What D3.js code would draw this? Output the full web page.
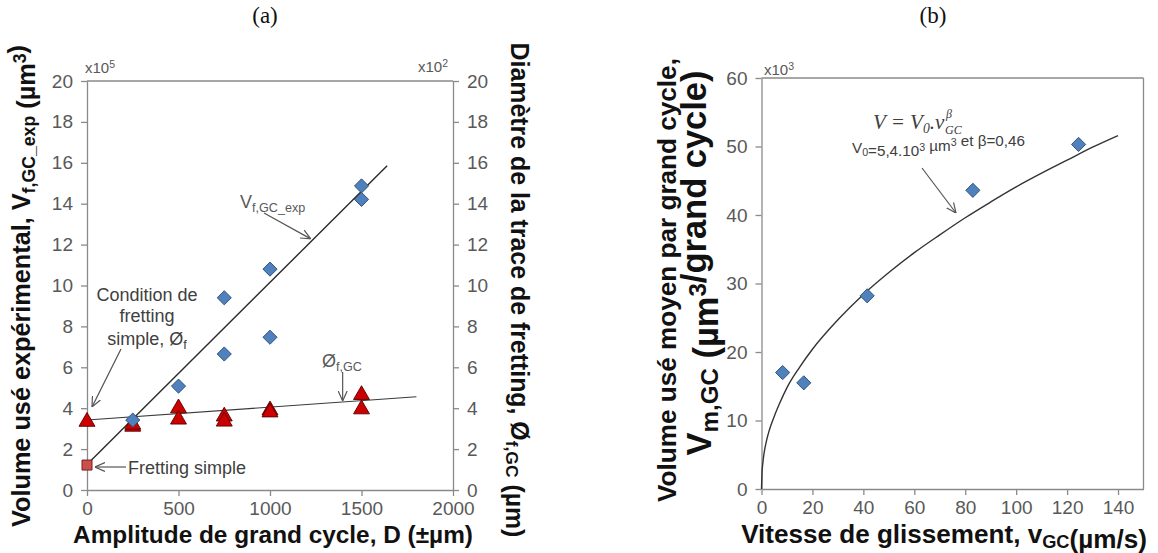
<!DOCTYPE html>
<html><head><meta charset="utf-8">
<script src="https://cdn.jsdelivr.net/npm/d3@7"></script>
<style>body{margin:0;background:#fff;} svg{display:block;}</style>
</head><body><svg id="c" width="1158" height="553"></svg>
<script>
// ---------- DATA (panel a) ----------
const ampD_V = [250, 500, 750, 750, 1000, 1000, 1500, 1500];
const volV = [3.42, 5.08, 9.4, 6.65, 10.8, 7.47, 14.87, 14.21];          // x10^5 µm³
const ampD_phi = [0, 250, 250, 500, 500, 750, 750, 1000, 1000, 1500, 1500];
const diamPhi = [3.34, 3.1, 3.2, 4.0, 3.45, 3.6, 3.35, 3.9, 3.8, 4.65, 3.95]; // x10^2 µm
const simpleD = [0];
const simpleVol = [1.22];
const fitV_D = [0, 1640];
const fitV_val = [1.25, 15.85];
const fitPhi_D = [0, 1800];
const fitPhi_val = [3.42, 4.56];
const xTicksA = [0, 500, 1000, 1500, 2000];
const yTicksA = [0, 2, 4, 6, 8, 10, 12, 14, 16, 18, 20];

// ---------- DATA (panel b) ----------
const speed = [8.3, 16.6, 41.5, 83, 124.5];
const volMean = [17.0, 15.5, 28.2, 43.6, 50.3];                           // x10^3 µm³
const fitSpeed = [0, 0.2, 0.5, 1, 2, 3, 5, 7, 10, 15, 20, 30, 40, 50, 60, 70, 80, 90, 100, 110, 120, 130, 140];
const fitVol = [0, 2.4, 3.7, 5.2, 7.1, 8.5, 10.6, 12.4, 14.8, 17.8, 20.4, 24.7, 28.4, 31.6, 34.5, 37.1, 39.6, 41.9, 44.1, 46.1, 48.0, 49.9, 51.6];
const xTicksB = [0, 20, 40, 60, 80, 100, 120, 140];
const yTicksB = [0, 10, 20, 30, 40, 50, 60];

// ---------- STYLE ----------
const AX = "#8a8a8a", TXT = "#595959", DARK = "#404040";
const SANS = "'Liberation Sans', Arial, sans-serif";
const SERIF = "'Liberation Serif', 'Times New Roman', serif";

const svg = d3.select("#c");
const defs = svg.append("defs");
defs.append("marker").attr("id", "arr").attr("viewBox", "0 0 10 10")
  .attr("refX", 10).attr("refY", 5).attr("markerWidth", 10).attr("markerHeight", 10)
  .attr("markerUnits", "userSpaceOnUse").attr("orient", "auto")
  .append("path").attr("d", "M0,0.5 L10,5 L0,9.5").attr("fill", "none")
  .attr("stroke", "#555").attr("stroke-width", 1.2);

function styleAxis(g) {
  g.select(".domain").attr("stroke", AX).attr("stroke-width", 1.3);
  g.selectAll(".tick line").attr("stroke", AX).attr("stroke-width", 1.3);
  g.selectAll(".tick text").attr("fill", TXT).attr("font-size", 19).attr("font-family", SANS);
}
function fit(sel, target) {
  const len = sel.node().getBBox().width;
  const fs = parseFloat(sel.attr("font-size"));
  sel.attr("font-size", fs * target / len);
}
function sub(t, s) { t.append("tspan").attr("font-size", "0.7em").attr("dy", "0.3em").text(s); t.append("tspan").attr("dy", "-0.21em").text(""); }
function sup(t, s) { t.append("tspan").attr("font-size", "0.7em").attr("dy", "-0.5em").text(s); t.append("tspan").attr("dy", "0.35em").text(""); }
const fmt = d3.format("d");

// panel labels
svg.append("text").attr("x", 265).attr("y", 23).attr("text-anchor", "middle")
  .attr("font-family", SERIF).attr("font-size", 23).attr("fill", "#111").text("(a)");
svg.append("text").attr("x", 933).attr("y", 23).attr("text-anchor", "middle")
  .attr("font-family", SERIF).attr("font-size", 23).attr("fill", "#111").text("(b)");

// ================= PANEL A =================
const xA = d3.scaleLinear().domain([0, 2000]).range([87, 453]);
const yA = d3.scaleLinear().domain([0, 20]).range([490, 81]);
const yA2 = d3.scaleLinear().domain([0, 20]).range([490, 81]);

const gA = svg.append("g");
gA.append("line").attr("x1", xA(0)).attr("x2", xA(2000)).attr("y1", yA(20)).attr("y2", yA(20))
  .attr("stroke", AX).attr("stroke-width", 1.3);
gA.append("g").attr("transform", `translate(0,${yA(0)})`)
  .call(d3.axisBottom(xA).tickValues(xTicksA).tickFormat(fmt).tickSize(6).tickSizeOuter(0).tickPadding(6)).call(styleAxis);
gA.append("g").attr("transform", `translate(${xA(0)},0)`)
  .call(d3.axisLeft(yA).tickValues(yTicksA).tickFormat(fmt).tickSize(6).tickSizeOuter(0).tickPadding(8)).call(styleAxis);
gA.append("g").attr("transform", `translate(${xA(2000)},0)`)
  .call(d3.axisRight(yA2).tickValues(yTicksA).tickFormat(fmt).tickSize(6).tickSizeOuter(0).tickPadding(8)).call(styleAxis);

// fit lines
const lineA = d3.line().x(d => xA(d[0])).y(d => yA(d[1]));
gA.append("path").datum(d3.zip(fitPhi_D, fitPhi_val)).attr("d", lineA)
  .attr("fill", "none").attr("stroke", "#3a3a3a").attr("stroke-width", 1.1);
gA.append("path").datum(d3.zip(fitV_D, fitV_val)).attr("d", lineA)
  .attr("fill", "none").attr("stroke", "#2a2a2a").attr("stroke-width", 1.4);

// triangles
const tri = d3.symbol().type(d3.symbolTriangle).size(110);
gA.selectAll(".tri").data(d3.zip(ampD_phi, diamPhi)).join("path")
  .attr("transform", d => `translate(${xA(d[0])},${yA2(d[1])})`).attr("d", tri)
  .attr("fill", "#cc0000").attr("stroke", "#5a0000").attr("stroke-width", 0.9);
// diamonds
const dia = d3.symbol().type(d3.symbolSquare).size(100);
gA.selectAll(".dia").data(d3.zip(ampD_V, volV)).join("path")
  .attr("transform", d => `translate(${xA(d[0])},${yA(d[1])}) rotate(45)`).attr("d", dia)
  .attr("fill", "#4f81bd").attr("stroke", "#2f4f77").attr("stroke-width", 0.9);
// fretting simple square
gA.selectAll(".sq").data(d3.zip(simpleD, simpleVol)).join("path")
  .attr("transform", d => `translate(${xA(d[0])},${yA(d[1])})`).attr("d", d3.symbol().type(d3.symbolSquare).size(100))
  .attr("fill", "#c9504f").attr("stroke", "#7a1f1f").attr("stroke-width", 1);

// multipliers
let t = gA.append("text").attr("x", 85).attr("y", 73).attr("font-family", SANS).attr("font-size", 15).attr("fill", TXT).text("x10");
sup(t, "5");
t = gA.append("text").attr("x", 418).attr("y", 72).attr("font-family", SANS).attr("font-size", 15).attr("fill", TXT).text("x10");
sup(t, "2");

// annotations
const cond = ["Condition de", "fretting", "simple, Ø"];
const condY = [301, 322, 345];
cond.forEach((s, i) => {
  const tt = gA.append("text").attr("x", 147).attr("y", condY[i]).attr("text-anchor", "middle")
    .attr("font-family", SANS).attr("font-size", 18).attr("fill", DARK).text(s);
  if (i === 2) sub(tt, "f");
});
gA.append("line").attr("x1", 121).attr("y1", 349).attr("x2", 92).attr("y2", 407)
  .attr("stroke", "#555").attr("stroke-width", 1.2).attr("marker-end", "url(#arr)");

gA.append("text").attr("x", 128).attr("y", 474).attr("font-family", SANS).attr("font-size", 18)
  .attr("fill", DARK).text("Fretting simple");
gA.append("line").attr("x1", 126).attr("y1", 467).attr("x2", 95).attr("y2", 467)
  .attr("stroke", "#555").attr("stroke-width", 1.2).attr("marker-end", "url(#arr)");

t = gA.append("text").attr("x", 240).attr("y", 208).attr("font-family", SANS).attr("font-size", 18).attr("fill", TXT).text("V");
sub(t, "f,GC_exp");
const dArrow = 1228;
const vAt = fitV_val[0] + (fitV_val[1] - fitV_val[0]) * (dArrow - fitV_D[0]) / (fitV_D[1] - fitV_D[0]);
gA.append("line").attr("x1", 264).attr("y1", 213).attr("x2", xA(dArrow) - 1).attr("y2", yA(vAt) - 2)
  .attr("stroke", "#555").attr("stroke-width", 1.2).attr("marker-end", "url(#arr)");

t = gA.append("text").attr("x", 322).attr("y", 367).attr("font-family", SANS).attr("font-size", 18).attr("fill", TXT).text("Ø");
sub(t, "f,GC");
const dPhi = 1397;
const pAt = fitPhi_val[0] + (fitPhi_val[1] - fitPhi_val[0]) * dPhi / fitPhi_D[1];
gA.append("line").attr("x1", xA(dPhi)).attr("y1", 372).attr("x2", xA(dPhi)).attr("y2", yA2(pAt) - 1)
  .attr("stroke", "#555").attr("stroke-width", 1.2).attr("marker-end", "url(#arr)");

// axis titles A
t = svg.append("text").attr("transform", "translate(30,286) rotate(-90)").attr("text-anchor", "middle")
  .attr("font-family", SANS).attr("font-weight", "bold").attr("font-size", 22).attr("fill", "#111")
  .text("Volume usé expérimental, V");
sub(t, "f,GC_exp"); t.append("tspan").text(" (µm"); sup(t, "3"); t.append("tspan").text(")");
fit(t, 482);

t = svg.append("text").attr("transform", "translate(511,290) rotate(90)").attr("text-anchor", "middle")
  .attr("font-family", SANS).attr("font-weight", "bold").attr("font-size", 22).attr("fill", "#111")
  .text("Diamètre de la trace de fretting, Ø");
sub(t, "f,GC"); t.append("tspan").text(" (µm)");
fit(t, 495);

t = svg.append("text").attr("x", 273).attr("y", 543).attr("text-anchor", "middle")
  .attr("font-family", SANS).attr("font-weight", "bold").attr("font-size", 22).attr("fill", "#111")
  .text("Amplitude de grand cycle, D (±µm)");
fit(t, 400);

// ================= PANEL B =================
const xB = d3.scaleLinear().domain([0, 150]).range([761.5, 1143.5]);
const yB = d3.scaleLinear().domain([0, 60]).range([489, 78]);
const gB = svg.append("g");
gB.append("line").attr("x1", xB(0)).attr("x2", xB(150)).attr("y1", yB(60)).attr("y2", yB(60)).attr("stroke", AX).attr("stroke-width", 1.3);
gB.append("line").attr("x1", xB(150)).attr("x2", xB(150)).attr("y1", yB(60)).attr("y2", yB(0)).attr("stroke", AX).attr("stroke-width", 1.3);
gB.append("g").attr("transform", `translate(0,${yB(0)})`)
  .call(d3.axisBottom(xB).tickValues(xTicksB).tickFormat(fmt).tickSize(6).tickSizeOuter(0).tickPadding(6)).call(styleAxis);
gB.append("g").attr("transform", `translate(${xB(0)},0)`)
  .call(d3.axisLeft(yB).tickValues(yTicksB).tickFormat(fmt).tickSize(6).tickSizeOuter(0).tickPadding(8)).call(styleAxis);

gB.append("path").datum(d3.zip(fitSpeed, fitVol))
  .attr("d", d3.line().x(d => xB(d[0])).y(d => yB(d[1])).curve(d3.curveMonotoneX))
  .attr("fill", "none").attr("stroke", "#333").attr("stroke-width", 1.4);
gB.selectAll(".dia").data(d3.zip(speed, volMean)).join("path")
  .attr("transform", d => `translate(${xB(d[0])},${yB(d[1])}) rotate(45)`).attr("d", dia)
  .attr("fill", "#4f81bd").attr("stroke", "#2f4f77").attr("stroke-width", 0.9);

t = gB.append("text").attr("x", 764).attr("y", 75).attr("font-family", SANS).attr("font-size", 15).attr("fill", TXT).text("x10");
sup(t, "3");

// formula
const f1 = gB.append("text").attr("x", 873).attr("y", 129).attr("font-family", SERIF).attr("font-style", "italic")
  .attr("font-size", 21).attr("fill", DARK).text("V = V");
f1.append("tspan").attr("font-size", "0.65em").attr("dy", "0.3em").text("0");
f1.append("tspan").attr("dy", "-0.195em").text(".v");
const fb = f1.node().getBBox();
const fx = fb.x + fb.width;
gB.append("text").attr("x", fx + 1).attr("y", 118).attr("font-family", SERIF).attr("font-style", "italic")
  .attr("font-size", 12).attr("fill", DARK).text("β");
gB.append("text").attr("x", fx).attr("y", 134).attr("font-family", SERIF).attr("font-style", "italic")
  .attr("font-size", 12).attr("fill", DARK).text("GC");

t = gB.append("text").attr("x", 852).attr("y", 153).attr("font-family", SANS).attr("font-size", 15).attr("fill", DARK).text("V");
sub(t, "0"); t.append("tspan").text("=5,4.10"); sup(t, "3"); t.append("tspan").text(" µm"); sup(t, "3"); t.append("tspan").text(" et β=0,46");
fit(t, 173);

gB.append("line").attr("x1", 922).attr("y1", 168).attr("x2", 956).attr("y2", 213)
  .attr("stroke", "#555").attr("stroke-width", 1.2).attr("marker-end", "url(#arr)");

// axis titles B
t = svg.append("text").attr("transform", "translate(676,280) rotate(-90)").attr("text-anchor", "middle")
  .attr("font-family", SANS).attr("font-weight", "bold").attr("font-size", 22).attr("fill", "#111")
  .text("Volume usé moyen par grand cycle,");
fit(t, 444);
t = svg.append("text").attr("transform", "translate(711,263) rotate(-90)").attr("text-anchor", "middle")
  .attr("font-family", SANS).attr("font-weight", "bold").attr("font-size", 22).attr("fill", "#111")
  .text("V");
sub(t, "m,GC"); t.append("tspan").text(" (µm"); sup(t, "3"); t.append("tspan").text("/grand cycle)");
fit(t, 385);

t = svg.append("text").attr("x", 944).attr("y", 543).attr("text-anchor", "middle")
  .attr("font-family", SANS).attr("font-weight", "bold").attr("font-size", 22).attr("fill", "#111")
  .text("Vitesse de glissement, v");
sub(t, "GC"); t.append("tspan").text("(µm/s)");
fit(t, 406);
</script></body></html>
